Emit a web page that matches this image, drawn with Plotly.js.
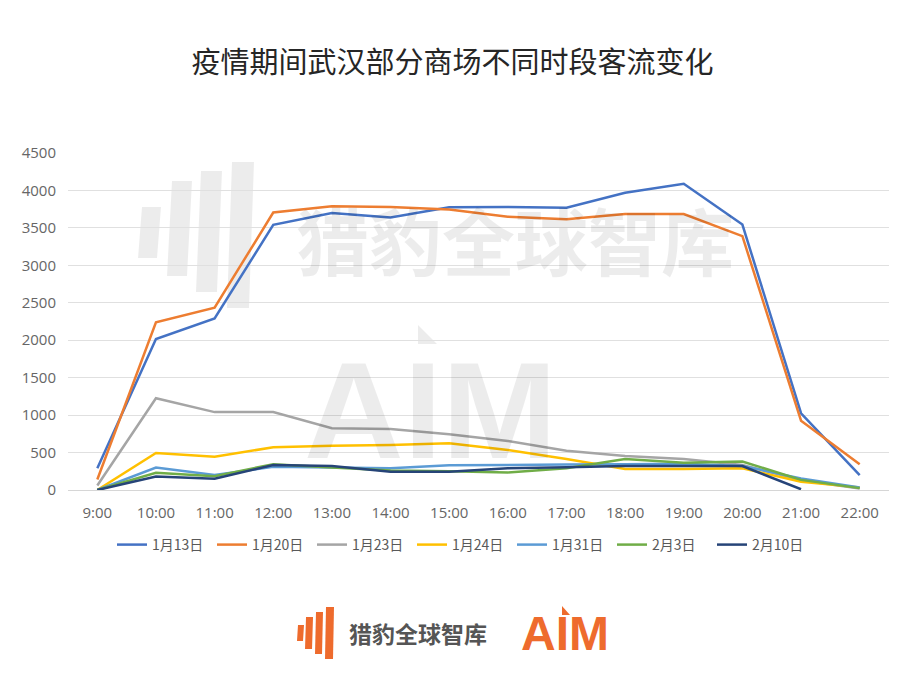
<!DOCTYPE html>
<html>
<head>
<meta charset="utf-8">
<script src="https://cdn.plot.ly/plotly-3.0.1.min.js"></script>
<style>html,body{margin:0;padding:0;background:#fff;}#chart{width:905px;height:682px;}</style>
</head>
<body>
<div id="chart"></div>
<script>
// ---- data ----
var hours = ['9:00','10:00','11:00','12:00','13:00','14:00','15:00','16:00','17:00','18:00','19:00','20:00','21:00','22:00'];
var seriesNames = ['1月13日','1月20日','1月23日','1月24日','1月31日','2月3日','2月10日'];
var d0113 = [290, 2015, 2290, 3540, 3700, 3640, 3775, 3780, 3770, 3970, 4090, 3545, 1025, 200];
var d0120 = [140, 2240, 2435, 3705, 3790, 3780, 3745, 3650, 3615, 3685, 3685, 3390, 925, 345];
var d0123 = [60, 1225, 1040, 1040, 825, 815, 745, 655, 525, 455, 415, 335, 130, 20];
var d0124 = [0, 495, 445, 570, 590, 600, 625, 535, 415, 280, 280, 290, 110, 35];
var d0131 = [0, 300, 200, 310, 300, 290, 330, 340, 340, 345, 350, 320, 155, 35];
var d0203 = [0, 230, 185, 345, 300, 260, 250, 235, 290, 415, 365, 380, 135, 25];
var d0210 = [0, 180, 150, 335, 320, 245, 245, 290, 305, 320, 320, 320, 10, null];
var yTicks = [0, 500, 1000, 1500, 2000, 2500, 3000, 3500, 4000, 4500];

var seriesData = [d0113, d0120, d0123, d0124, d0131, d0203, d0210];
var colors = ['#4472C4', '#ED7D31', '#A5A5A5', '#FFC000', '#5B9BD5', '#70AD47', '#264478'];

var FONT = '"Noto Sans CJK SC", "Noto Sans", sans-serif';
var TICKFONT = '"Open Sans", "Noto Sans CJK SC", sans-serif';

var traces = seriesData.map(function (d, i) {
  return {
    type: 'scatter', mode: 'lines', x: hours, y: d, name: seriesNames[i],
    line: {color: colors[i], width: 2.5}, connectgaps: false, hoverinfo: 'x+y+name'
  };
});

// pixel -> paper helpers for decorative logo shapes
var L = 68, T = 153, W = 821, H = 337;
function px(x) { return (x - L) / W; }
function py(y) { return (T + H - y) / H; }
function bar(xl, w, yt, yb, s, color) {
  var p = 'M' + px(xl) + ',' + py(yb) + ' L' + px(xl + w) + ',' + py(yb) +
          ' L' + px(xl + w + s) + ',' + py(yt) + ' L' + px(xl + s) + ',' + py(yt) + ' Z';
  return {type: 'path', xref: 'paper', yref: 'paper', path: p, fillcolor: color, line: {width: 0}, layer: 'below'};
}
function tri(x0, y0, x1, y1, x2, y2, color) {
  return {type: 'path', xref: 'paper', yref: 'paper', line: {width: 0}, fillcolor: color, layer: 'below',
    path: 'M' + px(x0) + ',' + py(y0) + ' L' + px(x1) + ',' + py(y1) + ' L' + px(x2) + ',' + py(y2) + ' Z'};
}
var wm = 'rgba(0,0,0,0.075)';
var orange = '#EE6B2D';
var shapes = [
  // watermark icon
  bar(138, 19, 207, 258, 4, wm),
  bar(167, 20, 181, 276, 5, wm),
  bar(196, 21, 171, 292, 5, wm),
  bar(227, 22, 162, 308, 5, wm),
  // watermark AIM arrow tip
  tri(418, 325, 437, 344, 418, 344, wm),
  // footer icon
  bar(297, 6, 625, 641, 1, orange),
  bar(305, 7, 617, 649, 1, orange),
  bar(315, 7, 612, 654, 1, orange),
  bar(325, 8, 607, 659, 1, orange),
  // footer AIM arrow tip
  tri(562, 606, 570, 615, 562, 615, orange)
];

var annotations = [
  {text: '猎豹全球智库', xref: 'paper', yref: 'paper', x: px(515), y: py(238), xanchor: 'center', yanchor: 'middle',
   showarrow: false, font: {family: FONT, size: 73, color: wm, weight: 'bold'}},
  {text: 'AIM', xref: 'paper', yref: 'paper', x: px(430), y: py(410), xanchor: 'center', yanchor: 'middle',
   showarrow: false, font: {family: '"Liberation Sans", Arial, sans-serif', size: 138, color: wm, weight: 'bold'}},
  {text: '猎豹全球智库', xref: 'paper', yref: 'paper', x: px(418), y: py(633), xanchor: 'center', yanchor: 'middle',
   showarrow: false, font: {family: FONT, size: 23, color: '#555555', weight: 'bold'}},
  {text: 'AIM', xref: 'paper', yref: 'paper', x: px(565), y: py(633), xanchor: 'center', yanchor: 'middle',
   showarrow: false, font: {family: '"Liberation Sans Narrow", "Liberation Sans", sans-serif', size: 48, color: orange, weight: 'bold'}}
];

var layout = {
  width: 905, height: 682,
  margin: {l: L, r: 905 - L - W, t: T, b: 682 - T - H, autoexpand: false},
  paper_bgcolor: '#ffffff', plot_bgcolor: '#ffffff',
  font: {family: FONT, color: '#595959', size: 13},
  title: {text: '疫情期间武汉部分商场不同时段客流变化', x: 0.5, xanchor: 'center', xref: 'container',
          y: 1 - 63 / 682, yref: 'container', yanchor: 'middle',
          font: {family: FONT, size: 29, color: '#262626'}},
  xaxis: {type: 'category', categoryarray: hours, range: [-0.5, 13.5], showgrid: false, zeroline: false,
          showline: true, linecolor: '#d6d6d6', linewidth: 1, ticks: '', ticklabelstandoff: 9, tickangle: 0,
          tickfont: {family: TICKFONT, size: 15, color: '#666666'}, fixedrange: true},
  yaxis: {range: [0, 4500], tickvals: yTicks, ticktext: yTicks.map(String), showgrid: true, gridcolor: '#e0e0e0',
          gridwidth: 1, zeroline: false, showline: false, ticks: '', ticklabelstandoff: 11,
          tickfont: {family: TICKFONT, size: 15, color: '#666666'}, fixedrange: true},
  showlegend: true,
  legend: {orientation: 'h', x: px(462), xanchor: 'center', xref: 'paper', y: py(545), yanchor: 'middle',
           font: {family: FONT, size: 14, color: '#595959'}, itemwidth: 30, entrywidth: 55, entrywidthmode: 'pixels',
           traceorder: 'normal', bgcolor: 'rgba(0,0,0,0)'},
  shapes: shapes,
  annotations: annotations,
  hovermode: 'closest'
};

Plotly.newPlot('chart', traces, layout, {displayModeBar: false});
</script>
</body>
</html>
